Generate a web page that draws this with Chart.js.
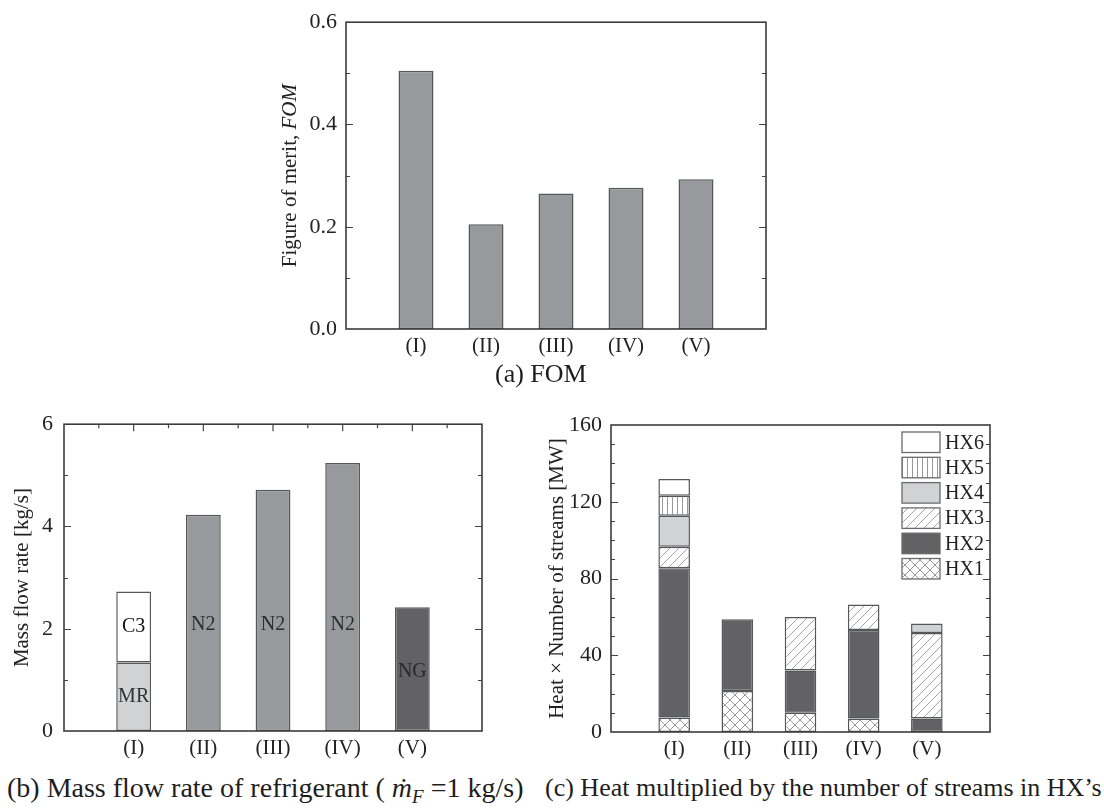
<!DOCTYPE html>
<html><head><meta charset="utf-8">
<script src="https://cdn.jsdelivr.net/npm/chart.js@4.4.1/dist/chart.umd.min.js"></script>
<style>
html,body{margin:0;padding:0;background:#fff;}
body{width:1104px;height:811px;position:relative;overflow:hidden;font-family:"Liberation Serif","Times New Roman",serif;color:#222;}
canvas{position:absolute;}
.cap{position:absolute;font-size:26px;line-height:26px;white-space:nowrap;color:#1e1e1e;}
.cap sub{font-size:19px;line-height:0;vertical-align:-6px;}
</style></head><body>
<canvas id="ca" width="560" height="360" style="left:230px;top:0px"></canvas>
<canvas id="cb" width="500" height="362" style="left:0px;top:400px"></canvas>
<canvas id="cc" width="480" height="362" style="left:530px;top:400px"></canvas>
<div class="cap" style="left:495px;top:361px">(a) FOM</div>
<div class="cap" style="left:7px;top:774px;font-size:28px;line-height:28px">(b) Mass flow rate of refrigerant ( <i>ṁ</i><sub><i>F</i></sub> =1 kg/s)</div>
<div class="cap" style="left:545px;top:775px">(c) Heat multiplied by the number of streams in HX’s</div>
<script>
// ---------- data ----------
const categories = ['(I)', '(II)', '(III)', '(IV)', '(V)'];
const fomValues = [0.505, 0.205, 0.265, 0.276, 0.293];
const flowMR = [1.34, null, null, null, null];
const flowC3 = [1.39, null, null, null, null];
const flowN2 = [null, 4.23, 4.72, 5.24, null];
const flowNG = [null, null, null, null, 2.42];
const hx1 = [7.5, 21.4, 10.0, 7.1, null];
const hx2 = [77.8, 37.3, 22.1, 46.1, 7.1];
const hx3 = [11.3, null, 27.8, 13.3, 44.5];
const hx4 = [16.1, null, null, null, 5.0];
const hx5 = [10.4, null, null, null, null];
const hx6 = [8.7, null, null, null, null];
const fomTickLabels = ['0.0', '0.2', '0.4', '0.6'];
const flowTickLabels = ['0', '2', '4', '6'];
const heatTickLabels = ['0', '40', '80', '120', '160'];

// ---------- helpers ----------
const FONT = '"Liberation Serif", "Times New Roman", serif';
const TXT = '#222';
const EDGE = '#565759';
const padLabels = ['', ...categories, ''];
const pad = arr => [null, ...arr, null];

function hatch(kind) {
  const s = kind === 'vert' ? 5 : (kind === 'diag' ? 9 : 10);
  const c = document.createElement('canvas');
  c.width = s; c.height = s;
  const g = c.getContext('2d');
  g.fillStyle = '#fff'; g.fillRect(0, 0, s, s);
  g.strokeStyle = kind === 'diag' ? '#9a9a9c' : '#8c8c8e'; g.lineWidth = 0.9;
  g.beginPath();
  if (kind === 'vert') { g.moveTo(2.5, 0); g.lineTo(2.5, s); }
  if (kind === 'diag' || kind === 'cross') {
    g.moveTo(-1, s + 1); g.lineTo(s + 1, -1);
    g.moveTo(-2, 2); g.lineTo(2, -2);
    g.moveTo(s - 2, s + 2); g.lineTo(s + 2, s - 2);
  }
  if (kind === 'cross') {
    g.moveTo(-1, -1); g.lineTo(s + 1, s + 1);
    g.moveTo(s - 2, -2); g.lineTo(s + 2, 2);
    g.moveTo(-2, s - 2); g.lineTo(2, s + 2);
  }
  g.stroke();
  return g.createPattern(c, 'repeat');
}

const framePlugin = {
  id: 'frame',
  afterDatasetsDraw(chart, args, opts) {
    const { ctx, chartArea: a, scales } = chart;
    ctx.save();
    ctx.strokeStyle = '#444';
    ctx.lineWidth = 1.2;
    const y = scales.y;
    y.ticks.forEach(t => {
      if (t.value <= y.min || t.value >= y.max) return;
      const py = Math.round(y.getPixelForValue(t.value)) + 0.5;
      const len = t.label !== '' ? opts.major : opts.minor;
      ctx.beginPath();
      ctx.moveTo(a.left, py); ctx.lineTo(a.left + len, py);
      ctx.moveTo(a.right, py); ctx.lineTo(a.right - len, py);
      ctx.stroke();
    });
    if (opts.topTicks) {
      const x = scales.x;
      for (let i = 0; i < padLabels.length - 1; i++) {
        const p1 = x.getPixelForValue(i), p2 = x.getPixelForValue(i + 1);
        const mid = (p1 + p2) / 2;
        ctx.beginPath();
        ctx.moveTo(mid, a.top); ctx.lineTo(mid, a.top + opts.minor);
        if (i > 0) { ctx.moveTo(p1, a.top); ctx.lineTo(p1, a.top + opts.major); }
        ctx.stroke();
      }
    }
    ctx.strokeStyle = '#3c3c3c';
    ctx.lineWidth = 1.6;
    ctx.strokeRect(a.left, a.top, a.right - a.left, a.bottom - a.top);
    ctx.restore();
  }
};

const richTitlePlugin = {
  id: 'richTitle',
  afterDraw(chart, args, opts) {
    if (!opts.parts) return;
    const { ctx, chartArea: a } = chart;
    ctx.save();
    ctx.translate(opts.x, (a.top + a.bottom) / 2);
    ctx.rotate(-Math.PI / 2);
    ctx.fillStyle = TXT;
    ctx.textBaseline = 'middle';
    ctx.textAlign = 'left';
    let total = 0;
    const widths = opts.parts.map(p => { ctx.font = p.style + ' ' + opts.size + 'px ' + FONT; const w = ctx.measureText(p.text).width; total += w; return w; });
    let cx = -total / 2;
    opts.parts.forEach((p, i) => { ctx.font = p.style + ' ' + opts.size + 'px ' + FONT; ctx.fillText(p.text, cx, 0); cx += widths[i]; });
    ctx.restore();
  }
};

const barTextPlugin = {
  id: 'barText',
  afterDatasetsDraw(chart, args, opts) {
    if (!opts.enabled) return;
    const { ctx, scales } = chart;
    ctx.save();
    ctx.font = '20px ' + FONT;
    ctx.textAlign = 'center';
    ctx.textBaseline = 'middle';
    chart.data.datasets.forEach((ds, di) => {
      const meta = chart.getDatasetMeta(di);
      meta.data.forEach((el, i) => {
        if (ds.data[i] == null) return;
        const anchor = opts.anchors[ds.label];
        const py = anchor != null ? scales.y.getPixelForValue(anchor) : (el.y + el.base) / 2;
        ctx.fillStyle = opts.colors[ds.label] || TXT;
        ctx.fillText(ds.label, el.x, py);
      });
    });
    ctx.restore();
  }
};

const boxLegendPlugin = {
  id: 'boxLegend',
  afterDatasetsDraw(chart, args, opts) {
    if (!opts.enabled) return;
    const { ctx, chartArea: a } = chart;
    ctx.save();
    ctx.font = '20px ' + FONT;
    ctx.textBaseline = 'middle';
    ctx.textAlign = 'left';
    const list = chart.data.datasets.slice().reverse();
    list.forEach((ds, k) => {
      const x = a.right - opts.offsetRight;
      const y = a.top + opts.offsetTop + k * opts.step;
      ctx.fillStyle = ds.backgroundColor;
      ctx.fillRect(x, y, opts.boxW, opts.boxH);
      ctx.strokeStyle = '#6a6a6c'; ctx.lineWidth = 1.3;
      ctx.strokeRect(x, y, opts.boxW, opts.boxH);
      ctx.fillStyle = TXT;
      ctx.fillText(ds.label, x + opts.boxW + 5, y + opts.boxH / 2 + 1);
    });
    ctx.restore();
  }
};

Chart.register(framePlugin, richTitlePlugin, barTextPlugin, boxLegendPlugin);

function makeOptions(cfg) {
  return {
    responsive: false,
    animation: false,
    devicePixelRatio: 1,
    layout: { padding: cfg.padding },
    plugins: {
      legend: { display: false },
      tooltip: { enabled: false },
      frame: { major: 7, minor: 4, topTicks: !!cfg.topTicks },
      richTitle: cfg.richTitle || {},
      barText: cfg.barText || { enabled: false },
      boxLegend: cfg.boxLegend || { enabled: false }
    },
    scales: {
      x: {
        type: 'category',
        offset: false,
        stacked: !!cfg.stacked,
        grid: { display: false, drawTicks: false },
        border: { display: false },
        ticks: { autoSkip: false, maxRotation: 0, padding: cfg.xPad, color: TXT, font: { family: FONT, size: 21 } },
        afterFit: s => { s.height = cfg.xHeight; }
      },
      y: {
        min: cfg.yMin, max: cfg.yMax,
        stacked: !!cfg.stacked,
        grid: { display: false, drawTicks: false },
        border: { display: false },
        title: cfg.yTitle ? { display: true, text: cfg.yTitle, color: TXT, font: { family: FONT, size: 21 }, padding: { top: cfg.yTitlePad, bottom: 0 } } : { display: false },
        ticks: {
          stepSize: cfg.step, autoSkip: false, padding: cfg.yPad, color: TXT,
          font: { family: FONT, size: 22 },
          callback: v => { const s = cfg.fmt(v); return cfg.tickLabels.includes(s) ? s : ''; }
        },
        afterFit: s => { s.width = cfg.yWidth; }
      }
    }
  };
}

const barCommon = { barPercentage: 0.5, categoryPercentage: 1.0, borderColor: EDGE, borderWidth: 1.5, borderSkipped: false };

// (a) FOM
new Chart(document.getElementById('ca'), {
  type: 'bar',
  data: {
    labels: padLabels,
    datasets: [{ label: 'FOM', data: pad(fomValues), backgroundColor: '#98999d', ...barCommon }]
  },
  options: makeOptions({
    padding: { top: 18, right: 24, left: 0, bottom: 0 },
    yMin: 0, yMax: 0.6, step: 0.1, tickLabels: fomTickLabels, fmt: v => v.toFixed(1),
    yWidth: 116, yPad: 9, xHeight: 31, xPad: 5,
    richTitle: { x: 60, size: 21, parts: [{ text: 'Figure of merit, ', style: 'normal' }, { text: 'FOM', style: 'italic' }] }
  })
});

// (b) Mass flow rate
new Chart(document.getElementById('cb'), {
  type: 'bar',
  data: {
    labels: padLabels,
    datasets: [
      { label: 'MR', data: pad(flowMR), backgroundColor: '#d1d2d4', ...barCommon },
      { label: 'C3', data: pad(flowC3), backgroundColor: '#ffffff', ...barCommon },
      { label: 'N2', data: pad(flowN2), backgroundColor: '#98999d', ...barCommon },
      { label: 'NG', data: pad(flowNG), backgroundColor: '#626264', ...barCommon }
    ]
  },
  options: makeOptions({
    padding: { top: 23, right: 18, left: 0, bottom: 0 },
    stacked: true, topTicks: true,
    yMin: 0, yMax: 6, step: 1, tickLabels: flowTickLabels, fmt: v => String(Math.round(v)),
    yWidth: 64, yPad: 11, xHeight: 31, xPad: 5,
    yTitle: 'Mass flow rate [kg/s]', yTitlePad: 10,
    barText: { enabled: true, anchors: { N2: 2.07, NG: 1.15 }, colors: { MR: '#333', C3: '#111', N2: '#2e2e30', NG: '#2a2a2c' } }
  })
});

// (c) Heat x number of streams
new Chart(document.getElementById('cc'), {
  type: 'bar',
  data: {
    labels: padLabels,
    datasets: [
      { label: 'HX1', data: pad(hx1), backgroundColor: hatch('cross'), ...barCommon },
      { label: 'HX2', data: pad(hx2), backgroundColor: '#626264', ...barCommon },
      { label: 'HX3', data: pad(hx3), backgroundColor: hatch('diag'), ...barCommon },
      { label: 'HX4', data: pad(hx4), backgroundColor: '#d1d2d4', ...barCommon },
      { label: 'HX5', data: pad(hx5), backgroundColor: hatch('vert'), ...barCommon },
      { label: 'HX6', data: pad(hx6), backgroundColor: '#ffffff', ...barCommon }
    ]
  },
  options: makeOptions({
    padding: { top: 25, right: 20, left: 0, bottom: 0 },
    stacked: true,
    yMin: 0, yMax: 160, step: 10, tickLabels: heatTickLabels, fmt: v => String(Math.round(v)),
    yWidth: 81, yPad: 9, xHeight: 30, xPad: 5,
    yTitle: 'Heat × Number of streams [MW]', yTitlePad: 15,
    boxLegend: { enabled: true, offsetRight: 88, offsetTop: 7, step: 25.3, boxW: 38, boxH: 20.5 }
  })
});
</script>
</body></html>
